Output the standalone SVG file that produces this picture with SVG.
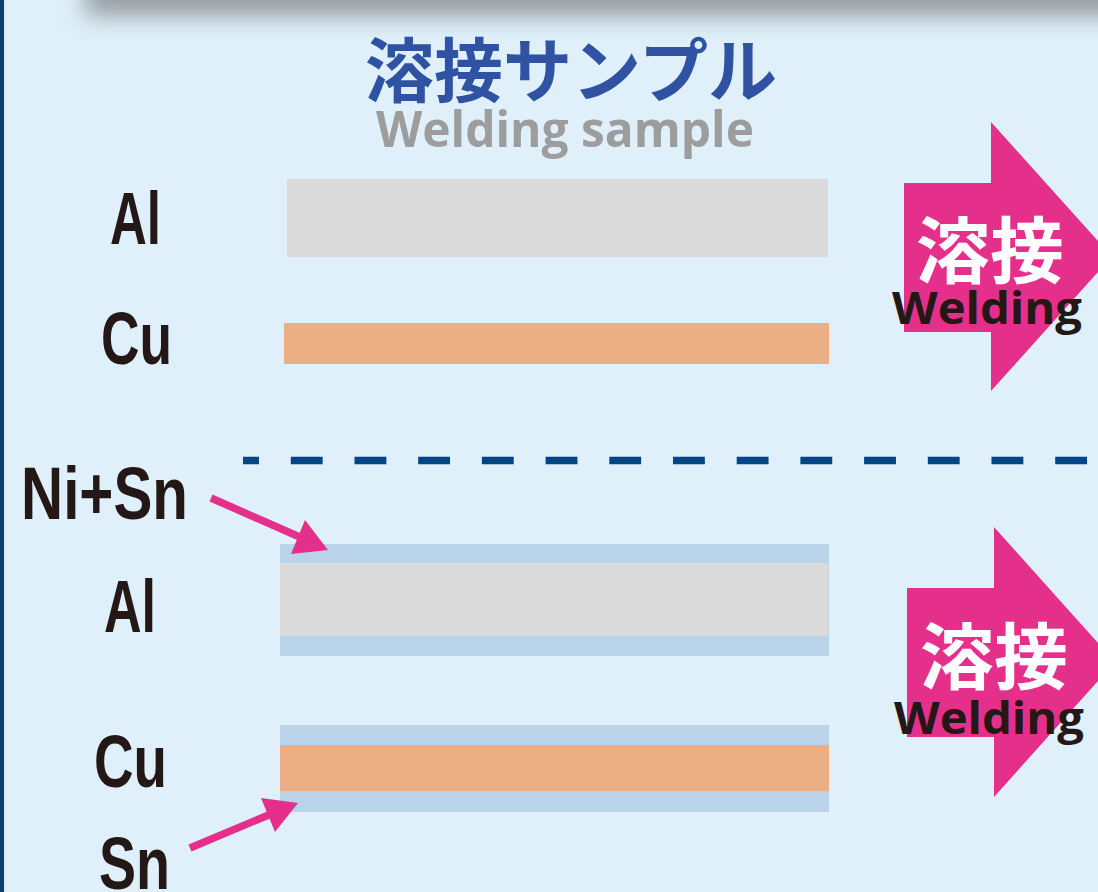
<svg xmlns="http://www.w3.org/2000/svg" width="1098" height="892" viewBox="0 0 1098 892">
<defs>
<filter id="blur" x="-20%" y="-200%" width="140%" height="500%"><feGaussianBlur stdDeviation="12"/></filter>
<style>
.lbl{font-family:"Liberation Sans",Arial,sans-serif;font-weight:bold;fill:#231815;font-size:74px}
.jp{font-family:"Noto Sans CJK JP","Noto Sans CJK SC",sans-serif;font-weight:bold}
.en{font-family:"Open Sans","Liberation Sans",sans-serif;font-weight:bold}
.pink{fill:#e4308a}
.gray{fill:#dadada}
.cu{fill:#ecae84}
.sn{fill:#b9d3e8}
</style>
</defs>
<rect x="0" y="0" width="1098" height="892" fill="#dff0fa"/>
<rect x="85" y="-40" width="1060" height="56" fill="#959ca2" filter="url(#blur)"/>
<rect x="0" y="0" width="4" height="892" fill="#0d3d6b"/>

<g id="title">
<text class="jp" x="365" y="97" font-size="70" fill="#2f52a3" textLength="412" lengthAdjust="spacingAndGlyphs">溶接サンプル</text>
<text class="en" x="376" y="147" font-size="50" fill="#9d9d9d" textLength="378" lengthAdjust="spacingAndGlyphs">Welding sample</text>
</g>

<g id="top-al">
<text class="lbl" x="110" y="244" textLength="51" lengthAdjust="spacingAndGlyphs">Al</text>
<rect class="gray" x="287" y="179" width="541" height="78"/>
</g>
<g id="top-cu">
<text class="lbl" x="101" y="364" textLength="71" lengthAdjust="spacingAndGlyphs">Cu</text>
<rect class="cu" x="284" y="323" width="545" height="41"/>
</g>

<g id="arrow-top">
<polygon class="pink" points="904,183 991,183 991,122 1112,256.5 991,391 991,332 904,332"/>
<text class="jp" x="916" y="277" font-size="72" fill="#ffffff" textLength="148" lengthAdjust="spacingAndGlyphs">溶接</text>
<text class="en" x="892" y="324" font-size="45" fill="#231815" textLength="190" lengthAdjust="spacingAndGlyphs">Welding</text>
</g>

<g id="divider">
<line x1="243" y1="460.5" x2="1098" y2="460.5" stroke="#004589" stroke-width="7.5" stroke-dasharray="31.85 31.85" stroke-dashoffset="15.9"/>
</g>

<g id="bottom-al">
<text class="lbl" x="104" y="632" textLength="52" lengthAdjust="spacingAndGlyphs">Al</text>
<rect class="sn" x="280" y="544" width="549" height="112"/>
<rect class="gray" x="280" y="563" width="548" height="73"/>
</g>
<g id="bottom-cu">
<text class="lbl" x="94" y="787" textLength="73" lengthAdjust="spacingAndGlyphs">Cu</text>
<rect class="sn" x="280" y="725" width="549" height="87"/>
<rect class="cu" x="280" y="745" width="549" height="46"/>
</g>

<g id="label-nisn">
<text class="lbl" x="21" y="519" font-size="72" textLength="167" lengthAdjust="spacingAndGlyphs">Ni+Sn</text>
</g>
<g id="label-sn">
<text class="lbl" x="99" y="889" textLength="71" lengthAdjust="spacingAndGlyphs">Sn</text>
</g>

<g id="arrow-bottom">
<polygon class="pink" points="907,588 994,588 994,527 1115,662 994,797 994,737 907,737"/>
<text class="jp" x="920" y="683" font-size="72" fill="#ffffff" textLength="148" lengthAdjust="spacingAndGlyphs">溶接</text>
<text class="en" x="894" y="734" font-size="45" fill="#231815" textLength="190" lengthAdjust="spacingAndGlyphs">Welding</text>
</g>

<g id="connectors">
<line x1="211" y1="498" x2="302" y2="538" stroke="#e4308a" stroke-width="7.5"/>
<polygon class="pink" points="305,520 328,550 291,554"/>
<line x1="190" y1="848" x2="271" y2="814" stroke="#e4308a" stroke-width="7.5"/>
<polygon class="pink" points="261,798 298,803 275,832"/>
</g>
</svg>
